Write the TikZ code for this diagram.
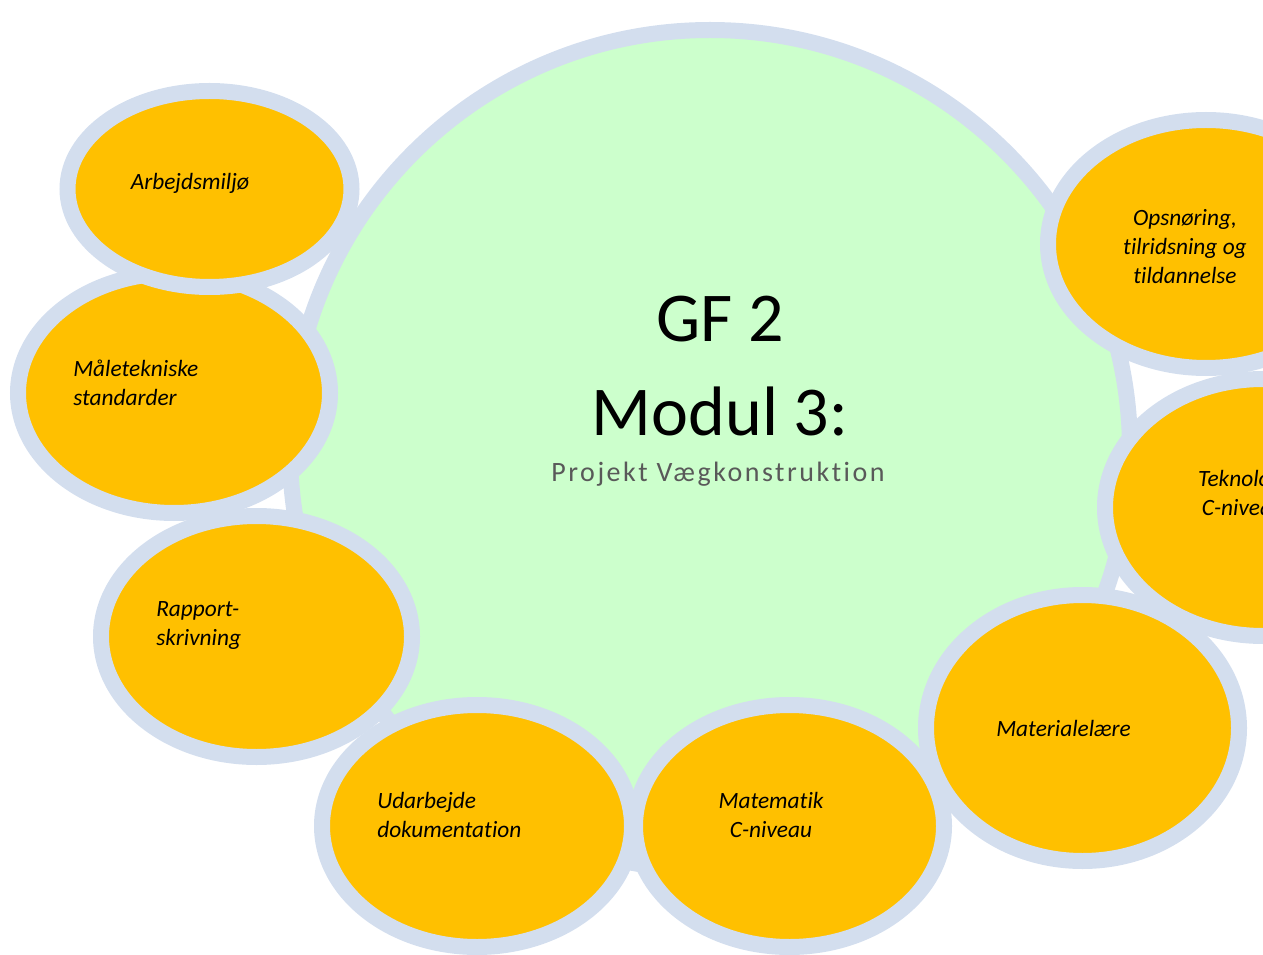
\documentclass[tikz,border=0pt]{standalone}
\usepackage{fontspec}
\setmainfont{Carlito}[Ligatures=CommonOff]
\usetikzlibrary{shapes.geometric}
\definecolor{ringc}{RGB}{211,222,238}
\definecolor{fillg}{RGB}{204,255,204}
\definecolor{fillo}{RGB}{255,192,0}
\definecolor{greyt}{RGB}{89,89,89}
\begin{document}
\begin{tikzpicture}[x=0.75pt,y=-0.75pt,
  blob/.style={ellipse, draw=ringc, fill=fillo, line width=12pt, inner sep=0pt},
  lbl/.style={font=\fontsize{17.5}{21.75}\selectfont\itshape, inner sep=0pt, text=black},
  ttl/.style={font=\fontsize{52.5}{60}\selectfont, inner sep=0pt, text=black, anchor=base}]
\useasboundingbox (0,0) rectangle (1263,955);
\clip (0,0) rectangle (1263,955);
% hub
\node[circle, draw=ringc, fill=fillg, line width=12pt, inner sep=0pt, minimum size=630pt] (hub) at (710,450) {};
% satellites
\node[blob, minimum width=234pt, minimum height=180pt] (maal) at (174,393) {};
\node[blob, minimum width=213pt, minimum height=147pt] (arb) at (209.5,189) {};
\node[blob, minimum width=233.25pt, minimum height=180.75pt] (rap) at (256.5,636.5) {};
\node[blob, minimum width=232.5pt, minimum height=181.5pt] (udar) at (477,826) {};
\node[blob, minimum width=231.75pt, minimum height=181.5pt] (mat) at (789.5,826) {};
\node[blob, minimum width=234.75pt, minimum height=199.5pt] (matl) at (1082.5,728) {};
\node[blob, minimum width=237pt, minimum height=192.75pt] (tek) at (1263,507.5) {};
\node[blob, minimum width=237pt, minimum height=186pt] (ops) at (1206,244) {};
% labels
\node[lbl] (tarb) at (190,183) {Arbejdsmiljø};
\node[lbl, anchor=west, align=left] (tmaal) at (73,383) {Måletekniske\\standarder};
\node[lbl, anchor=west, align=left] (trap) at (156,626) {Rapport-\\skrivning};
\node[lbl, anchor=west, align=left] (tudar) at (377,815) {Udarbejde\\dokumentation};
\node[lbl, align=center] (tmat) at (771,815) {Matematik\\C-niveau};
\node[lbl, anchor=west] (tmatl) at (996,728) {Materialelære};
\node[lbl, align=center] (tops) at (1185,247) {Opsnøring,\\tilridsning og\\tildannelse};
\node[lbl, align=center] (ttek) at (1243,493) {Teknologi\\C-niveau};
% title
\node[ttl] (gf) at (720,342) {GF 2};
\node[ttl] (modul) at (720,435) {Modul 3:};
\node[inner sep=0pt, anchor=base, text=greyt, font=\fontsize{21}{24}\selectfont\addfontfeature{LetterSpace=9}] (proj) at (718,481) {Projekt Vægkonstruktion};
\end{tikzpicture}
\end{document}
